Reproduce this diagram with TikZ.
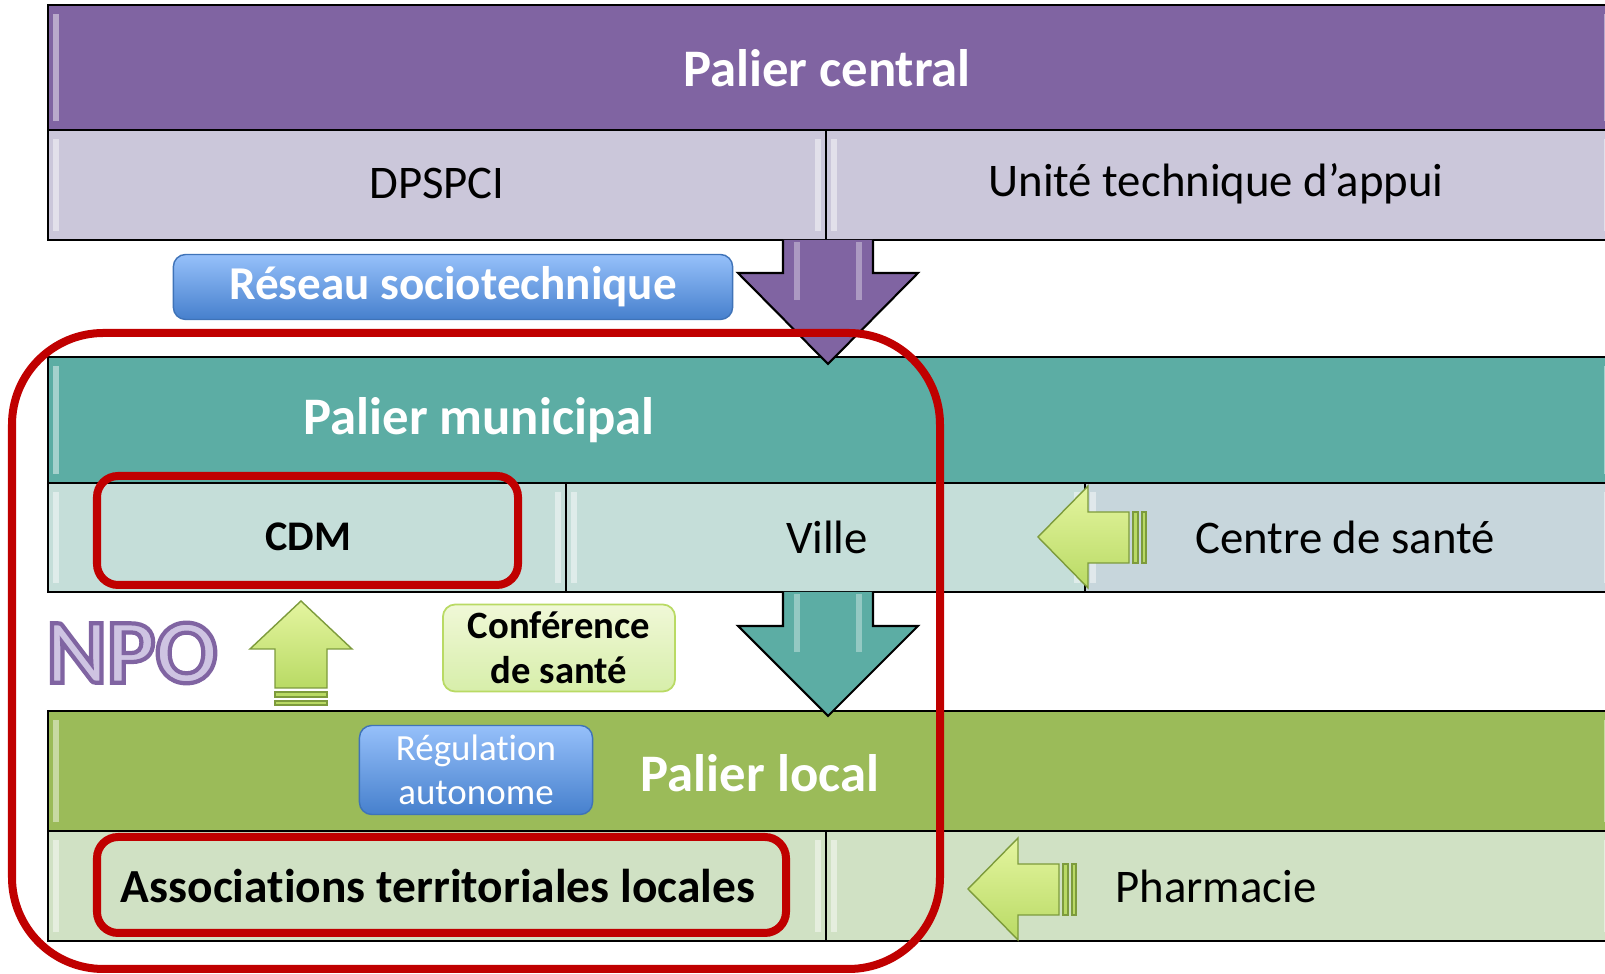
\documentclass[tikz,border=0pt]{standalone}
\usepackage{fontspec}
\setmainfont{Carlito}[Ligatures=NoCommon]
\usetikzlibrary{calc}

\definecolor{palpurple}{RGB}{128,100,162}
\definecolor{palpurplelt}{RGB}{203,199,218}
\definecolor{palteal}{RGB}{92,173,164}
\definecolor{paltealrow}{RGB}{197,222,217}
\definecolor{paltealgrey}{RGB}{199,214,220}
\definecolor{palgreen}{RGB}{155,187,89}
\definecolor{palgreenrow}{RGB}{208,225,196}
\definecolor{palred}{RGB}{192,0,0}
\definecolor{npolav}{RGB}{206,196,226}
\definecolor{arrowlt}{RGB}{228,245,160}
\definecolor{arrowmd}{RGB}{185,218,100}
\definecolor{arrowdk}{RGB}{125,155,60}
\definecolor{bluetop}{RGB}{150,192,250}
\definecolor{bluebot}{RGB}{70,128,205}
\definecolor{confTop}{RGB}{240,248,215}
\definecolor{confBot}{RGB}{215,238,170}

\tikzset{
  band/.style={draw=black, line width=0.6pt},
  header/.style={text=white, font=\fontsize{15}{18}\selectfont\bfseries},
  celltext/.style={text=black, font=\fontsize{13.3}{16}\selectfont},
  redframe/.style={draw=palred, line width=0.08cm},
  bluebox/.style={draw=bluebot!90!black, line width=0.4pt, rounded corners=3.5pt,
    top color=bluetop, bottom color=bluebot, text=white},
  greenarrow/.style={draw=arrowdk, line width=0.4pt, top color=arrowlt, bottom color=arrowmd},
  greenbar/.style={fill=arrowmd, draw=arrowdk, line width=0.3pt},
  leftblock/.pic={
    \draw[greenarrow] (0,0) -- (50,-51) -- (50,-25) -- (91,-25) -- (91,26) -- (50,26) -- (50,51) -- cycle;
    \draw[greenbar] (95,-25) rectangle (100,26);
    \draw[greenbar] (104,-25) rectangle (108,26);
  }
}

% outlined letters: fill in the current colour, stroke in purple
\newcommand\outlined[1]{%
  \special{pdf:literal direct 0.502 0.392 0.635 RG 1.2 w 2 Tr}#1\special{pdf:literal direct 0 Tr}}

% one cell of a band, with its light edges
\newcommand\palcell[5]{%
  \fill[#5] (#1,#2) rectangle (#3,#4);
  \fill[white, opacity=0.45] ($(#1,#2)+(5,9)$) rectangle ($(#1,#4)+(11,-9)$);
  \fill[white, opacity=0.45] ($(#3,#2)+(-11,9)$) rectangle ($(#3,#4)+(-5,-9)$);
  \draw[band] (#1,#2) rectangle (#3,#4);
}

\begin{document}
\begin{tikzpicture}[x=0.01cm, y=-0.01cm]
		%%%%% START %%%%%
		\useasboundingbox (0,0) rectangle (1605,974);
		\clip (0,0) rectangle (1605,974);
		\fill[white] (0,0) rectangle (1605,974);
		
		% palier central
		\palcell{48}{5}{1615}{130}{palpurple}
		\palcell{48}{130}{826}{240}{palpurplelt}
		\palcell{826}{130}{1615}{240}{palpurplelt}
		\node[header] (central) at (827,68) {Palier central};
		\node[celltext] (dpspci) at (437,184) {DPSPCI};
		\node[celltext] (uta) at (1216,184) {Unité technique d’appui};
		
		% palier municipal
		\palcell{48}{357}{1615}{483}{palteal}
		\palcell{48}{483}{566}{592}{paltealrow}
		\palcell{566}{483}{1085}{592}{paltealrow}
		\palcell{1085}{483}{1615}{592}{paltealgrey}
		\node[header] (municipal) at (479,420) {Palier municipal};
		\node[celltext, font=\fontsize{12}{14}\selectfont\bfseries] (cdm) at (308,537) {CDM};
		\node[celltext] (ville) at (827,537) {Ville};
		\node[celltext] (centre) at (1345,537) {Centre de santé};
		
		% palier local
		\palcell{48}{711}{1615}{831}{palgreen}
		\palcell{48}{831}{826}{941}{palgreenrow}
		\palcell{826}{831}{1615}{941}{palgreenrow}
		\node[header] (local) at (760,773) {Palier local};
		\node[celltext, font=\fontsize{13.5}{16}\selectfont\bfseries] (assoc) at (438,886) {Associations territoriales locales};
		\node[celltext] (pharma) at (1216,886) {Pharmacie};
		
		% down arrows
		\draw[band, fill=palpurple] (783,240) -- (783,273) -- (738,273) -- (828,364) -- (918,273) -- (873,273) -- (873,240);
		\fill[white, opacity=0.35] (794,242) rectangle (800,300);
		\fill[white, opacity=0.35] (856,242) rectangle (862,300);
		\draw[band, fill=palteal] (783,592) -- (783,626) -- (738,626) -- (828,716) -- (918,626) -- (873,626) -- (873,592);
		\fill[white, opacity=0.35] (794,594) rectangle (800,652);
		\fill[white, opacity=0.35] (856,594) rectangle (862,652);
		
		% green arrows
		\pic at (1038,537) {leftblock};
		\pic at (968,889) {leftblock};
		\draw[greenarrow] (301,601) -- (352,649) -- (327,649) -- (327,688) -- (275,688) -- (275,649) -- (250,649) -- cycle;
		\draw[greenbar] (275,692) rectangle (327,697);
		\draw[greenbar] (275,701) rectangle (327,705);
		
		% labels in boxes
		\node[bluebox, minimum width=5.59cm, minimum height=0.65cm, font=\fontsize{13.4}{16}\selectfont\bfseries] (reseau) at (453,287) {Réseau sociotechnique};
		\node[bluebox, minimum width=2.33cm, minimum height=0.89cm, align=center, inner sep=1pt, font=\fontsize{10.5}{12.6}\selectfont] (regul) at (476,770) {Régulation\\autonome};
		\node[draw=arrowmd, line width=0.5pt, rounded corners=3.5pt, top color=confTop, bottom color=confBot,
		  minimum width=2.32cm, minimum height=0.87cm, align=center, inner sep=1pt,
		  font=\fontsize{11}{12.8}\selectfont\bfseries] (conf) at (559,648) {Conférence\\de santé};
		
		% NPO
		\node[text=npolav, font=\fontsize{26}{28}\selectfont\bfseries] (npo) at (132,653) {\outlined{NPO}};
		
		% red frames
		\draw[redframe, rounded corners=26pt] (12,333) rectangle (940,969);
		\draw[redframe, rounded corners=6pt] (97,476) rectangle (518,585);
		\draw[redframe, rounded corners=6pt] (97,837) rectangle (786,933);
		
		%%%%% END %%%%%
\end{tikzpicture}
\end{document}
